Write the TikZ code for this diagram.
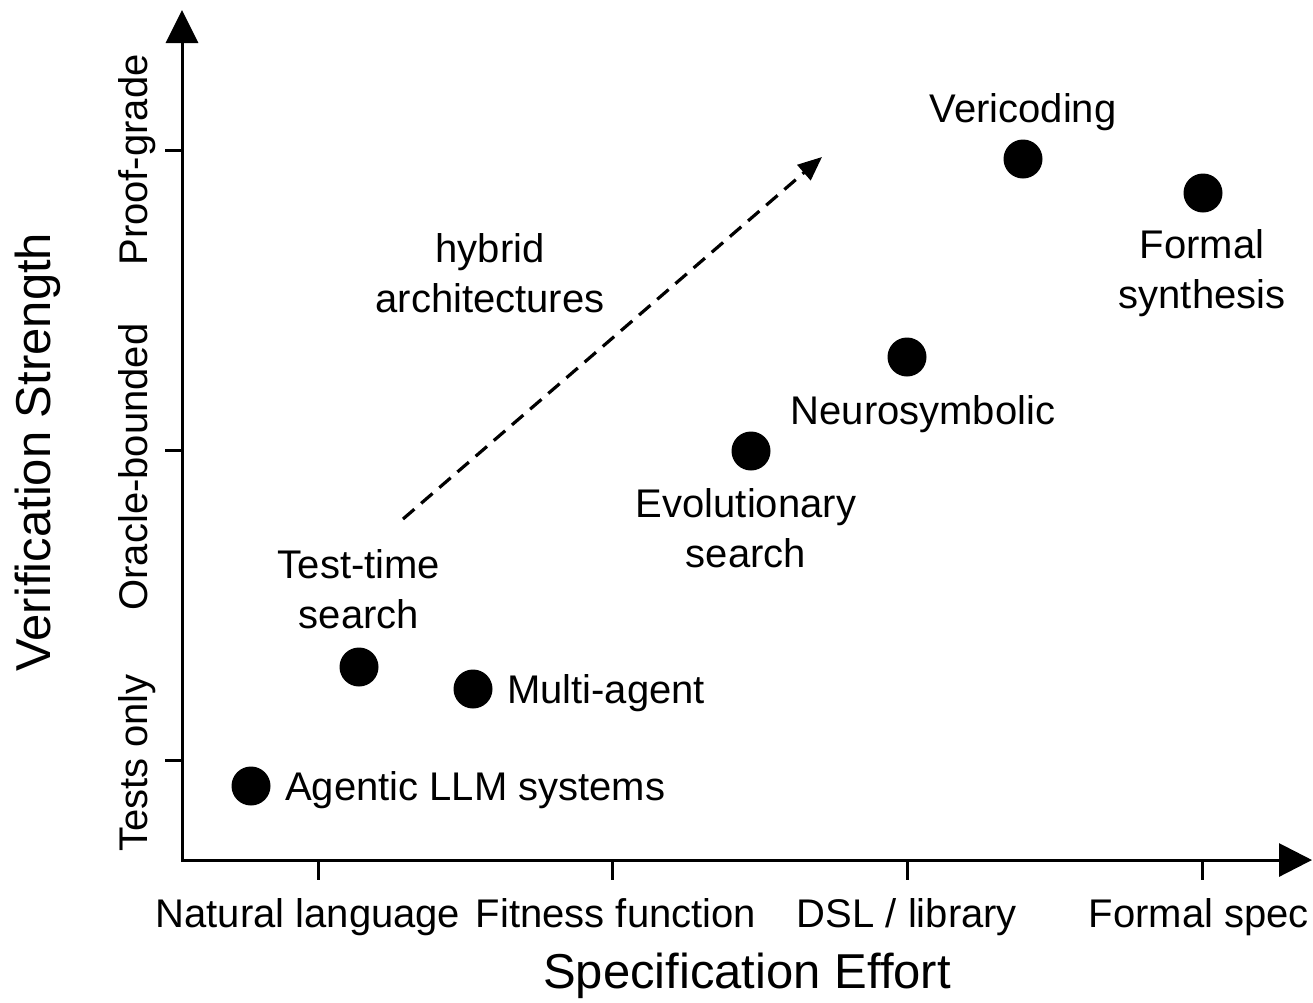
\documentclass[tikz,border=0pt]{standalone}
\usepackage{fontspec}
\setmainfont{Liberation Sans}
\usetikzlibrary{arrows.meta}
\begin{document}
\begin{tikzpicture}[x=1pt,y=-1pt,
  lbl/.style={font=\fontsize{40}{50}\selectfont, inner sep=0pt, align=center},
  ttl/.style={font=\fontsize{49}{58}\selectfont, inner sep=0pt},
  dot/.style={circle, fill=black, minimum size=39pt, inner sep=0pt},
  axisline/.style={line width=3pt, {Triangle[length=33pt,width=32pt]}-{Triangle[length=33pt,width=33pt]}},
  tickmark/.style={line width=3pt},
  trend/.style={line width=3.2pt, dash pattern=on 15pt off 9pt, -{Triangle[length=24pt,width=20pt]}}]
\useasboundingbox (0,0) rectangle (1313,1002);
\fill[white] (0,0) rectangle (1313,1002);
% axes
\coordinate (O) at (182,860);
\coordinate (ytop) at (182,10);
\coordinate (xend) at (1312,860);
\draw[axisline] (ytop) -- (O) -- (xend);
% y ticks
\coordinate (yt1) at (182,760);
\coordinate (yt2) at (182,450);
\coordinate (yt3) at (182,150);
\foreach \c in {yt1,yt2,yt3} \draw[tickmark] (\c) -- ++(-17,0);
% x ticks
\coordinate (xt1) at (318,860);
\coordinate (xt2) at (612,860);
\coordinate (xt3) at (907,860);
\coordinate (xt4) at (1202,860);
\foreach \c in {xt1,xt2,xt3,xt4} \draw[tickmark] (\c) -- ++(0,20);
% tick labels
\node[lbl, anchor=base] (xl1) at (308,927) {Natural language};
\node[lbl, anchor=base] (xl2) at (616,927) {Fitness function};
\node[lbl, anchor=base] (xl3) at (907,927) {DSL / library};
\node[lbl, anchor=base] (xl4) at (1199,927) {Formal spec};
\node[lbl, anchor=base, rotate=90] (yl1) at (147,763) {Tests only};
\node[lbl, anchor=base, rotate=90] (yl2) at (147,467) {Oracle-bounded};
\node[lbl, anchor=base, rotate=90] (yl3) at (147,160) {Proof-grade};
% axis titles
\node[ttl, anchor=base] (xtitle) at (747,988) {Specification Effort};
\node[ttl, anchor=base, rotate=90] (ytitle) at (50,452) {Verification Strength};
% points
\node[dot] (agentic) at (251,786) {};
\node[dot] (tts) at (359,667) {};
\node[dot] (multi) at (473,689) {};
\node[dot] (evo) at (751,451) {};
\node[dot] (neuro) at (907,357) {};
\node[dot] (veri) at (1023,159) {};
\node[dot] (formal) at (1203,193) {};
% point labels (multi-line nodes: base = baseline of last line)
\node[lbl, anchor=base west] (agenticL) at (285,800) {Agentic LLM systems};
\node[lbl, anchor=base west] (multiL) at (507,703) {Multi-agent};
\node[lbl, anchor=base] (ttsL) at (359,628) {Test-time\\search};
\node[lbl, anchor=base] (evoL) at (746,567) {Evolutionary\\search};
\node[lbl, anchor=base] (neuroL) at (923,424) {Neurosymbolic};
\node[lbl, anchor=base] (veriL) at (1023,122) {Vericoding};
\node[lbl, anchor=base] (formalL) at (1202,308) {Formal\\synthesis};
\node[lbl, anchor=base] (hybridL) at (490,312) {hybrid\\architectures};
% trend arrow
\coordinate (tstart) at (403,519);
\coordinate (tend) at (822,157);
\draw[trend] (tstart) -- (tend);
\end{tikzpicture}
\end{document}
